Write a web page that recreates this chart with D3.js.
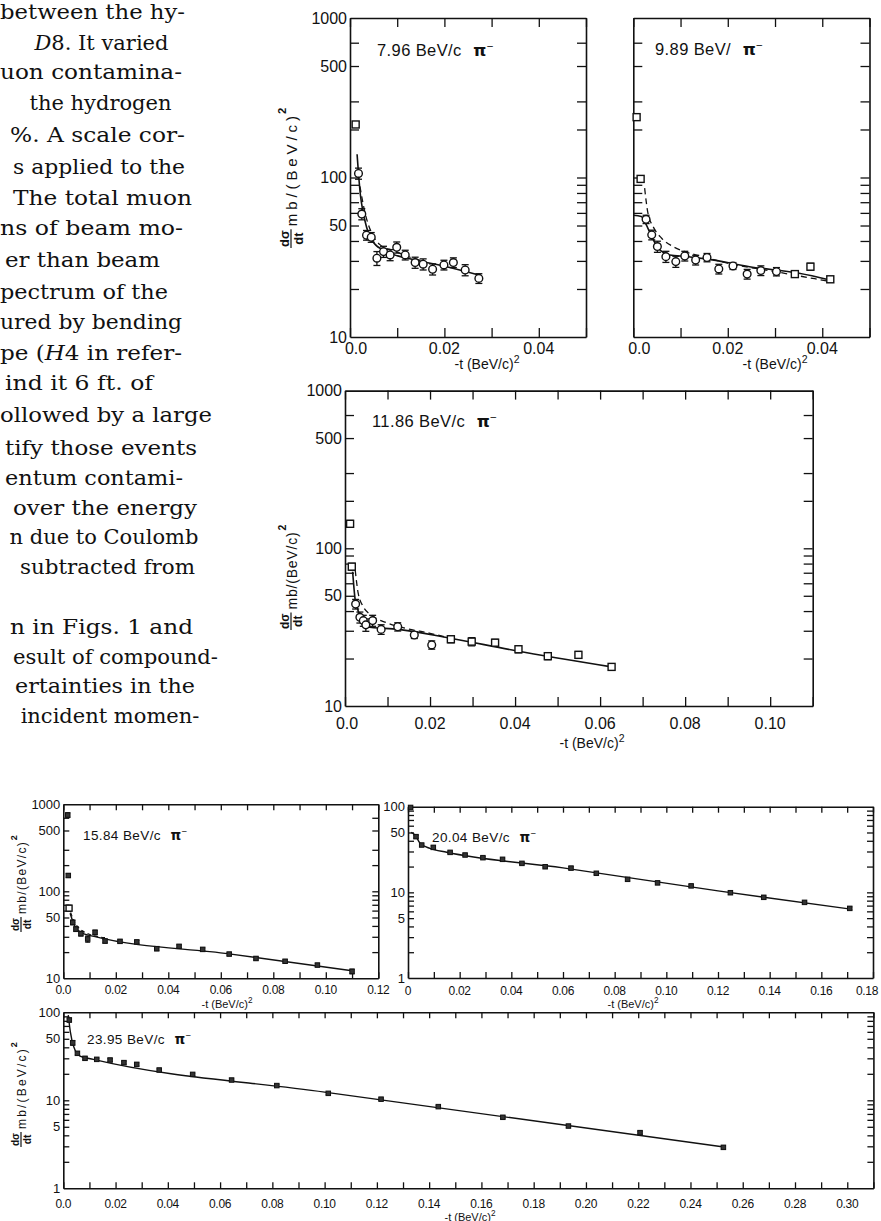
<!DOCTYPE html>
<html lang="en">
<head>
<meta charset="UTF-8">
<title>pi- p differential cross sections</title>
<script src="https://cdn.jsdelivr.net/npm/d3@7"></script>
<style>
  body { margin: 0; background: #fff; }
  svg { display: block; }
  .lab { font-family: "Liberation Sans", Arial, sans-serif; fill: #111; }
  .body-text { font-family: "DejaVu Serif", serif; font-size: 21px; fill: #111; }
</style>
</head>
<body>
<div id="chart"></div>
<script>
// ---- values ----
// points: [-t (BeV/c)^2, dsigma/dt mb/(BeV/c)^2, relative error, marker]
// marker: 'o' open circle, 's' open square, 'f' small filled square
const p796Points = [
  [0.0012, 215, 0.04, 's'], [0.0018, 106, 0.08, 'o'], [0.0025, 59, 0.08, 'o'],
  [0.0035, 43.5, 0.07, 'o'], [0.0045, 42.2, 0.07, 'o'], [0.0057, 31.2, 0.1, 'o'],
  [0.0071, 34.3, 0.08, 'o'], [0.0085, 32.7, 0.08, 'o'], [0.0099, 36.5, 0.08, 'o'],
  [0.0117, 32.7, 0.07, 'o'], [0.0138, 29.3, 0.08, 'o'], [0.0155, 28.6, 0.08, 'o'],
  [0.0175, 26.6, 0.08, 'o'], [0.0199, 28.3, 0.07, 'o'], [0.0219, 29.3, 0.07, 'o'],
  [0.0244, 26.3, 0.08, 'o'], [0.0273, 23.3, 0.07, 'o']
];
const p796Solid = [[0.0015, 140], [0.0018, 106], [0.0022, 78], [0.0028, 60], [0.0035, 49],
  [0.0051, 38.7], [0.0078, 34.3], [0.0138, 30.4], [0.02, 27.8], [0.0273, 24.5]];
const p796Dash = [[0.0021, 88], [0.0032, 59.7], [0.0046, 44.8], [0.0064, 37.8],
  [0.0092, 34.8], [0.013, 31.4], [0.016, 29.6]];

const p989Points = [
  [0.0007, 239, 0.04, 's'], [0.00155, 98, 0.04, 's'], [0.0027, 54.7, 0.06, 'o'],
  [0.0039, 43.7, 0.07, 'o'], [0.0051, 36.9, 0.08, 'o'], [0.0069, 31.9, 0.08, 'o'],
  [0.009, 29.7, 0.08, 'o'], [0.0109, 32.2, 0.07, 'o'], [0.0132, 30.4, 0.07, 'o'],
  [0.0156, 31.5, 0.06, 'o'], [0.0181, 26.7, 0.07, 'o'], [0.0211, 27.9, 0.05, 'o'],
  [0.0241, 24.8, 0.07, 'o'], [0.027, 26.1, 0.07, 'o'], [0.0303, 25.7, 0.06, 'o'],
  [0.0342, 24.8, 0.04, 's'], [0.0375, 27.6, 0.05, 's'], [0.0417, 23.0, 0.04, 's']
];
const p989Solid = [[0.0, 58], [0.0017, 57], [0.0026, 51.6], [0.0039, 42.6], [0.0053, 36],
  [0.0077, 32.7], [0.0112, 32], [0.0154, 30.9], [0.0246, 27.6], [0.0351, 25.1], [0.0416, 22.8]];
const p989Dash = [[0.0024, 85.7], [0.0031, 59.7], [0.0042, 49.2], [0.006, 41.6],
  [0.0084, 36.9], [0.0109, 34.3], [0.0141, 32.2], [0.02, 29], [0.03, 25.7], [0.0416, 22.3]];

const p1186Points = [
  [0.0012, 143, 0.05, 's'], [0.0016, 76.5, 0.05, 's'], [0.0025, 44.3, 0.07, 'o'],
  [0.0035, 36.5, 0.08, 'o'], [0.0043, 34.8, 0.08, 'o'], [0.0049, 32.7, 0.09, 'o'],
  [0.0065, 34.8, 0.08, 'o'], [0.0085, 30.6, 0.07, 'o'], [0.0124, 31.8, 0.06, 'o'],
  [0.0163, 28.2, 0.05, 'o'], [0.0204, 24.4, 0.06, 'o'], [0.0249, 26.5, 0.05, 's'],
  [0.0298, 25.6, 0.06, 's'], [0.0353, 25.2, 0.05, 's'], [0.0408, 22.9, 0.05, 's'],
  [0.0477, 20.7, 0.05, 's'], [0.0549, 21.1, 0.05, 's'], [0.0627, 17.7, 0.03, 's']
];
const p1186Solid = [[0.0018, 71], [0.0024, 47], [0.0029, 41.7], [0.0039, 35.1], [0.005, 31.8],
  [0.0126, 30.6], [0.0245, 27], [0.0402, 22.4], [0.0627, 17.7]];
const p1186Dash = [[0.0024, 72.8], [0.0031, 51.9], [0.0043, 42.6], [0.0062, 37.7],
  [0.0098, 33.7], [0.0145, 31.0], [0.02, 28.9], [0.0245, 27]];

const p1584Points = [
  [0.0017, 753, 0.06, 'f'], [0.0019, 152, 0.05, 'f'], [0.0022, 64, 0.08, 's'],
  [0.0036, 43.9, 0.06, 'f'], [0.0048, 36.8, 0.06, 'f'], [0.0067, 32.6, 0.06, 'f'],
  [0.0093, 28.3, 0.08, 'f'], [0.0121, 33.7, 0.06, 'f'], [0.0159, 26.8, 0.05, 'f'],
  [0.0216, 26.6, 0.04, 'f'], [0.028, 26.2, 0.04, 'f'], [0.0356, 21.9, 0.05, 'f'],
  [0.0441, 23.3, 0.04, 'f'], [0.0531, 21.5, 0.04, 'f'], [0.0632, 19.0, 0.04, 'f'],
  [0.0734, 16.9, 0.04, 'f'], [0.0845, 15.7, 0.04, 'f'], [0.0968, 14.2, 0.04, 'f'],
  [0.110, 12.0, 0.06, 'f']
];
const p1584Solid = [[0.0026, 56], [0.0041, 41.3], [0.0066, 33.7], [0.0117, 30.3],
  [0.0632, 19.1], [0.110, 12.2]];
const p1584Dash = [[0.0028, 57], [0.0045, 43], [0.006, 37.8], [0.0104, 31.7], [0.016, 29.3]];

const p2004Points = [
  [0.001, 98, 0.03, 'f'], [0.0031, 44.7, 0.04, 'f'], [0.0053, 35.7, 0.03, 'f'],
  [0.0098, 33.5, 0.04, 'f'], [0.0163, 29.3, 0.03, 'f'], [0.0221, 27.3, 0.03, 'f'],
  [0.029, 25.4, 0.03, 'f'], [0.0366, 24.3, 0.03, 'f'], [0.0441, 21.8, 0.03, 'f'],
  [0.0531, 19.9, 0.03, 'f'], [0.0631, 19.2, 0.04, 'f'], [0.0729, 16.7, 0.03, 'f'],
  [0.085, 14.2, 0.04, 'f'], [0.0966, 12.9, 0.04, 'f'], [0.1096, 11.9, 0.03, 'f'],
  [0.1248, 9.9, 0.04, 'f'], [0.1377, 8.75, 0.04, 'f'], [0.1535, 7.64, 0.03, 'f'],
  [0.171, 6.5, 0.04, 'f']
];
const p2004Solid = [[0.0012, 50], [0.0027, 46.7], [0.0047, 37.3], [0.0085, 32.6],
  [0.015, 29.4], [0.06, 19.3], [0.12, 10.4], [0.171, 6.4]];
const p2004Dash = [];

const p2395Points = [
  [0.0023, 81.8, 0.05, 'f'], [0.0036, 45, 0.06, 'f'], [0.0054, 34.2, 0.04, 'f'],
  [0.0083, 30, 0.04, 'f'], [0.0128, 29.2, 0.03, 'f'], [0.0179, 28.7, 0.04, 'f'],
  [0.0232, 26.8, 0.04, 'f'], [0.0281, 25.6, 0.04, 'f'], [0.0367, 22.1, 0.03, 'f'],
  [0.0495, 19.7, 0.03, 'f'], [0.0644, 17.0, 0.03, 'f'], [0.0817, 14.7, 0.03, 'f'],
  [0.1014, 12.0, 0.03, 'f'], [0.1216, 10.3, 0.03, 'f'], [0.1435, 8.47, 0.03, 'f'],
  [0.1682, 6.41, 0.03, 'f'], [0.1933, 5.1, 0.03, 'f'], [0.2207, 4.29, 0.04, 'f'],
  [0.2526, 2.92, 0.04, 'f']
];
const p2395Solid = [[0.0019, 93], [0.0027, 60], [0.004, 40.6], [0.0064, 31.8],
  [0.0115, 29.2], [0.1, 12.4], [0.2526, 2.95]];
const p2395Dash = [];

// tick labels
const yLabHigh = [10, 50, 100, 500, 1000];
const yLabLow = [1, 5, 10, 50, 100];
const yMinorHigh = [20, 30, 40, 50, 60, 70, 80, 90, 100, 200, 300, 500, 700];
const yMinorLow = [2, 3, 4, 5, 6, 7, 8, 9, 10, 20, 30, 40, 50, 60, 70, 80, 90];
const titles = ["7.96 BeV/c", "9.89 BeV/", "11.86 BeV/c", "15.84 BeV/c", "20.04 BeV/c", "23.95 BeV/c"];

// running text on the left (cut column of the page); _x_ marks italic
const bodyLines = [
  "between the hy-", "_D_8.  It varied", "uon contamina-", "the hydrogen",
  "%.  A scale cor-", "s applied to the", "The total muon", "ns of beam mo-",
  "er than beam", "pectrum of the", "ured by bending", "pe (_H_4 in refer-",
  "ind it 6 ft. of", "ollowed by a large", "tify those events", "entum contami-",
  "over the energy", "n due to Coulomb", "subtracted from",
  "n in Figs. 1 and", "esult of compound-", "ertainties in the", "incident momen-"
];

// ---- layout ----
const lineX = [0, 40, 0, 46, 10, 13, 13, 0, 5, 0, 0, 0, 5, 0, 5, 5, 13, 13, 20, 10, 13, 15, 22];
const lineEnd = [185, 163, 182, 155, 185, 185, 192, 183, 160, 168, 182, 182, 153, 212,
  197, 183, 197, 195, 195, 193, 218, 195, 198];
const lineY = [12, 43, 72, 103, 135, 167, 198, 228, 260, 292, 322, 353, 383, 415,
  448, 478, 508, 537, 567, 627, 657, 686, 716];

const svg = d3.select("#chart").append("svg")
  .attr("width", 881).attr("height", 1221)
  .style("background", "#fff");

bodyLines.forEach((s, i) => {
  const t = svg.append("text").attr("class", "body-text").attr("y", lineY[i] + 7);
  s.split("_").forEach((part, k) => {
    if (part) t.append("tspan").style("font-style", k % 2 ? "italic" : "normal").text(part);
  });
  // only stretch lines that are shorter than the measured span, never squeeze
  const w = t.node().getComputedTextLength();
  const target = lineEnd[i] - lineX[i];
  if (w < target) {
    t.attr("x", lineX[i]).attr("textLength", target).attr("lengthAdjust", "spacingAndGlyphs");
  } else {
    t.attr("x", Math.max(0, (lineX[i] + lineEnd[i]) / 2 - w / 2));
  }
});

function fmtX(v, zeroLab) {
  if (v === 0) return zeroLab;
  return d3.format(".2f")(v);
}

function yLabel(cx, bottom, top, fs) {
  const L = bottom - top;
  const g = svg.append("g").attr("class", "lab")
    .attr("transform", `translate(${cx},${bottom}) rotate(-90)`)
    .style("font-weight", "bold");
  const fw = fs * 1.25;
  g.append("text").attr("x", fw / 2).attr("y", -2).attr("text-anchor", "middle")
    .style("font-size", (fs * 0.85) + "px").text("dσ");
  g.append("line").attr("x1", 0).attr("x2", fw).attr("y1", 0).attr("y2", 0)
    .attr("stroke", "#111").attr("stroke-width", 1.2);
  g.append("text").attr("x", fw / 2).attr("y", fs * 0.8).attr("text-anchor", "middle")
    .style("font-size", (fs * 0.85) + "px").text("dt");
  const supW = fs * 0.6;
  g.append("text").attr("x", fw + 3).attr("y", fs * 0.4)
    .style("font-size", fs + "px").style("font-weight", "normal")
    .attr("textLength", L - fw - 3 - supW - 2).attr("lengthAdjust", "spacing")
    .text("mb/(BeV/c)");
  g.append("text").attr("x", L - supW).attr("y", -fs * 0.35)
    .style("font-size", (fs * 0.75) + "px").text("2");
}

function drawPanel(c) {
  const x = d3.scaleLinear().domain([0, c.xMax]).range([c.left, c.right]);
  const y = d3.scaleLog().domain([c.yMin, c.yMax]).range([c.bottom, c.top]);
  const g = svg.append("g");
  const xt = d3.range(0, Math.round(c.xMax * 100) + 1).map(i => i / 100);

  const frame = [
    [d3.axisBottom(x).tickValues(xt), `translate(0,${c.bottom})`],
    [d3.axisTop(x).tickValues(xt), `translate(0,${c.top})`],
    [d3.axisLeft(y).tickValues(c.yTicks), `translate(${c.left},0)`],
    [d3.axisRight(y).tickValues(c.yTicks), `translate(${c.right},0)`]
  ];
  frame.forEach(([ax, tr]) => {
    const a = g.append("g").attr("transform", tr)
      .call(ax.tickSize(-c.tick).tickSizeOuter(0).tickFormat(""));
    a.select(".domain").attr("stroke", "#111").attr("stroke-width", 1.6);
    a.selectAll(".tick line").attr("stroke", "#111").attr("stroke-width", 1.3);
  });

  // tick labels
  const nx = c.xLabels.length;
  g.selectAll(".xl").data(c.xLabels).join("text").attr("class", "lab")
    .attr("x", (d, i) => x(d) + (i === 0 ? c.zeroDx : 0) + (i === nx - 1 ? c.lastDx : 0))
    .attr("y", c.bottom + c.xLabOff)
    .attr("text-anchor", "middle").attr("dominant-baseline", "central")
    .style("font-size", c.xfs + "px").style("letter-spacing", c.xls + "px")
    .text(d => fmtX(d, c.zeroLab));
  g.selectAll(".yl").data(c.yLabels).join("text").attr("class", "lab")
    .attr("x", c.left - 3).attr("y", d => y(d))
    .attr("text-anchor", "end").attr("dominant-baseline", "central")
    .style("font-size", c.fs + "px")
    .text(d => d);

  // axis title
  const xt2 = g.append("text").attr("class", "lab")
    .attr("x", c.xTitle[0]).attr("y", c.xTitle[1])
    .attr("text-anchor", "middle").attr("dominant-baseline", "central")
    .style("font-size", c.tfs + "px");
  xt2.append("tspan").text("-t (BeV/c)");
  xt2.append("tspan").attr("dy", -c.tfs * 0.35).style("font-size", (c.tfs * 0.75) + "px").text("2");

  // panel title
  const tt = g.append("text").attr("class", "lab")
    .attr("x", c.titlePos[0]).attr("y", c.titlePos[1])
    .style("font-size", c.titleFs + "px").style("letter-spacing", "0.4px");
  tt.append("tspan").text(c.title);
  tt.append("tspan").attr("dx", c.titleFs * 0.7).style("font-weight", "bold")
    .style("font-family", "DejaVu Sans").text("π");
  tt.append("tspan").attr("dy", -c.titleFs * 0.35).style("font-size", (c.titleFs * 0.7) + "px").text("−");

  // curves
  const line = d3.line().x(d => x(d[0])).y(d => y(d[1])).curve(d3.curveMonotoneX);
  g.append("path").datum(c.solid).attr("d", line)
    .attr("fill", "none").attr("stroke", "#111").attr("stroke-width", c.lw);
  if (c.dash.length) {
    g.append("path").datum(c.dash).attr("d", line)
      .attr("fill", "none").attr("stroke", "#111").attr("stroke-width", c.lw * 0.8)
      .attr("stroke-dasharray", c.dashArr);
  }

  // error bars
  const eb = g.selectAll(".eb").data(c.points).join("g");
  eb.append("line")
    .attr("x1", d => x(d[0])).attr("x2", d => x(d[0]))
    .attr("y1", d => y(d[1] * (1 + d[2]))).attr("y2", d => y(d[1] * (1 - d[2])))
    .attr("stroke", "#111").attr("stroke-width", 1.3);
  [1, -1].forEach(sg => {
    eb.append("line")
      .attr("x1", d => x(d[0]) - c.cap).attr("x2", d => x(d[0]) + c.cap)
      .attr("y1", d => y(d[1] * (1 + sg * d[2]))).attr("y2", d => y(d[1] * (1 + sg * d[2])))
      .attr("stroke", "#111").attr("stroke-width", 1.3);
  });

  // markers
  g.selectAll(".mc").data(c.points.filter(d => d[3] === 'o')).join("circle")
    .attr("cx", d => x(d[0])).attr("cy", d => y(d[1])).attr("r", c.ms * 0.55)
    .attr("fill", "#fff").attr("stroke", "#111").attr("stroke-width", 1.4);
  g.selectAll(".ms").data(c.points.filter(d => d[3] === 's')).join("rect")
    .attr("x", d => x(d[0]) - c.ms / 2).attr("y", d => y(d[1]) - c.ms / 2)
    .attr("width", c.ms).attr("height", c.ms)
    .attr("fill", "#fff").attr("stroke", "#111").attr("stroke-width", 1.4);
  g.selectAll(".mf").data(c.points.filter(d => d[3] === 'f')).join("rect")
    .attr("x", d => x(d[0]) - c.fms / 2).attr("y", d => y(d[1]) - c.fms / 2)
    .attr("width", c.fms).attr("height", c.fms)
    .attr("fill", "#333").attr("stroke", "#111").attr("stroke-width", 1);
}

const upper = { yMin: 10, yMax: 1000, yTicks: yMinorHigh, tick: 9, fs: 16, xfs: 16, xls: 0,
  tfs: 14, titleFs: 16.5, lw: 1.6, dashArr: "6,4", cap: 3.5, ms: 7, fms: 4,
  zeroDx: 6, lastDx: 0, zeroLab: "0.0" };
const lower = { tick: 6, fs: 13, xfs: 12, xls: -0.3, tfs: 11, titleFs: 13.5, lw: 1.4,
  dashArr: "4,3", cap: 2.5, ms: 6, fms: 4.5, zeroDx: 0, lastDx: 0, zeroLab: "0.0" };

drawPanel(Object.assign({}, upper, {
  left: 350, right: 586, top: 18, bottom: 337, xMax: 0.05,
  xLabels: [0, 0.02, 0.04], yLabels: yLabHigh, xLabOff: 11, xTitle: [487, 364],
  title: titles[0], titlePos: [377, 56],
  points: p796Points, solid: p796Solid, dash: p796Dash
}));
drawPanel(Object.assign({}, upper, {
  left: 633.3, right: 869.5, top: 18, bottom: 337, xMax: 0.05,
  xLabels: [0, 0.02, 0.04], yLabels: [], xLabOff: 11, xTitle: [775, 364],
  title: titles[1], titlePos: [655, 55],
  points: p989Points, solid: p989Solid, dash: p989Dash
}));
drawPanel(Object.assign({}, upper, {
  left: 345, right: 812.7, top: 390.6, bottom: 706, xMax: 0.11,
  xLabels: d3.range(0, 6).map(i => i * 0.02), yLabels: yLabHigh, xLabOff: 17,
  xTitle: [592, 743], zeroDx: 2,
  title: titles[2], titlePos: [372, 427],
  points: p1186Points, solid: p1186Solid, dash: p1186Dash
}));
drawPanel(Object.assign({}, lower, {
  left: 63.3, right: 378.3, top: 804.3, bottom: 978.3, xMax: 0.12,
  yMin: 10, yMax: 1000, yTicks: yMinorHigh,
  xLabels: d3.range(0, 7).map(i => i * 0.02), yLabels: yLabHigh, xLabOff: 12,
  xTitle: [227, 1004],
  title: titles[3], titlePos: [83, 840],
  points: p1584Points, solid: p1584Solid, dash: p1584Dash
}));
drawPanel(Object.assign({}, lower, {
  left: 408, right: 873, top: 806.7, bottom: 978, xMax: 0.18,
  yMin: 1, yMax: 100, yTicks: yMinorLow, zeroLab: "0", lastDx: -6,
  xLabels: d3.range(0, 10).map(i => i * 0.02), yLabels: yLabLow, xLabOff: 13,
  xTitle: [633, 1004],
  title: titles[4], titlePos: [432, 842],
  points: p2004Points, solid: p2004Solid, dash: p2004Dash
}));
drawPanel(Object.assign({}, lower, {
  left: 63.3, right: 873.4, top: 1012.3, bottom: 1188.3, xMax: 0.31,
  yMin: 1, yMax: 100, yTicks: yMinorLow,
  xLabels: d3.range(0, 16).map(i => i * 0.02), yLabels: yLabLow, xLabOff: 15.5,
  xTitle: [470, 1216.5],
  title: titles[5], titlePos: [87, 1044],
  points: p2395Points, solid: p2395Solid, dash: p2395Dash
}));

// rotated y-axis titles
yLabel(291, 248, 105, 15);
yLabel(291, 630, 522, 14);
yLabel(21, 932, 833, 12);
yLabel(21, 1147, 1040, 12);
</script>
</body>
</html>
